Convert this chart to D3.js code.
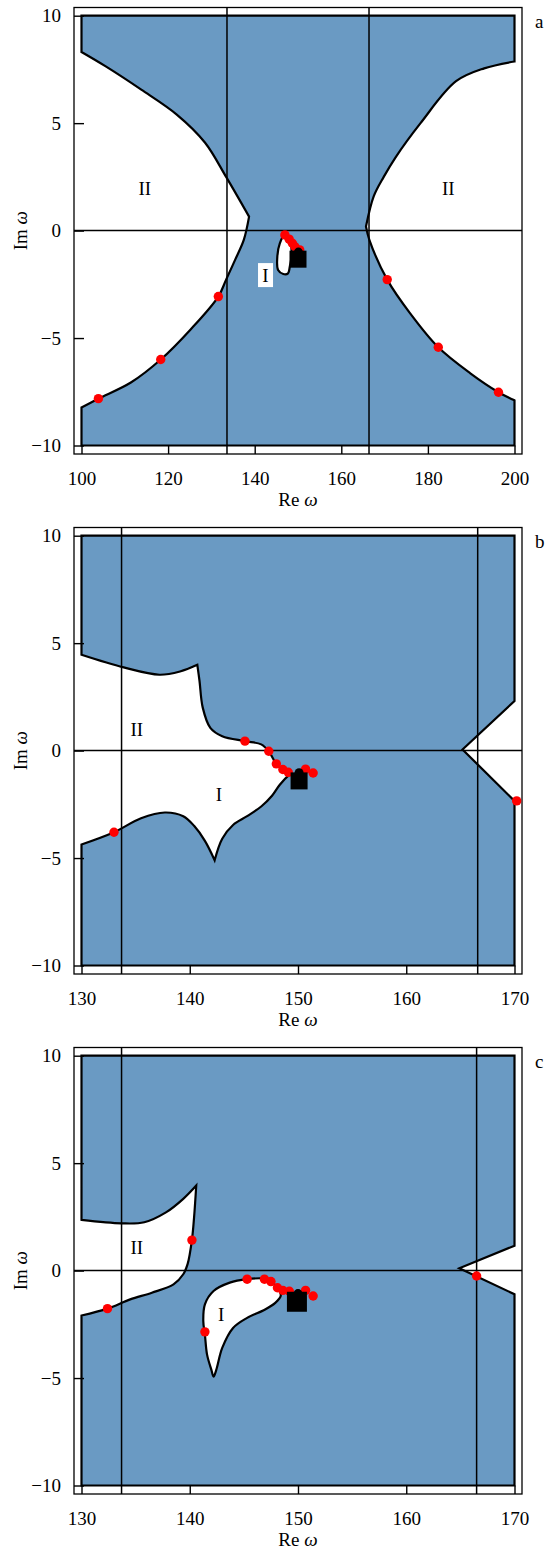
<!DOCTYPE html>
<html>
<head>
<meta charset="utf-8">
<title>Re/Im omega regions</title>
<script src="https://d3js.org/d3.v7.min.js"></script>
<style>
  body { margin: 0; background: #fff; }
  text { font-family: "Liberation Serif", "Times New Roman", serif; }
</style>
</head>
<body>
<div id="chart"></div>
<script>
// ---- data ----
const panelNames = ["a", "b", "c"];
const xDomains = [[100, 200], [130, 170], [130, 170]];
const xTicks = [[100, 120, 140, 160, 180, 200], [130, 140, 150, 160, 170], [130, 140, 150, 160, 170]];
const yTicks = [-10, -5, 0, 5, 10];
const vLines = [[133.6, 166.4], [133.7, 166.6], [133.7, 166.5]];

// boundary of the shaded region, piece by piece ("line" or "curve")
const aKinds = ["line", "curve", "curve", "line", "curve", "curve"];
const aBoundary = [
  [[100, 8.31], [100, 10], [200, 10], [200, 7.87]],
  [[200, 7.87], [193, 7.55], [186.5, 6.95], [178.3, 5.0], [172.5, 3.4], [169.8, 2.5], [167.5, 1.6], [165.7, 0.19]],
  [[165.7, 0.19], [166.5, -0.44], [170.6, -2.28], [175.9, -3.85], [182.4, -5.43], [189.8, -6.64], [196.3, -7.52], [200, -7.9]],
  [[200, -7.9], [200, -10], [100, -10], [100, -8.23]],
  [[100, -8.23], [103.9, -7.82], [111.4, -7.07], [118.3, -6.0], [125.2, -4.6], [131.6, -3.07], [133.4, -2.28], [135.5, -1.35], [137.5, -0.42], [138.7, 0.65]],
  [[138.7, 0.65], [133.4, 2.5], [128.5, 4.1], [122, 5.4], [113.8, 6.56], [105.6, 7.64], [100, 8.31]]
];
const aIsland = [[146.97, -0.2], [145.8, -0.59], [145.2, -1.29], [145.4, -1.83], [146.6, -2.02], [147.7, -1.99], [148.1, -1.68], [148.5, -1.2], [148.3, -0.6]];
const aDots = [[146.97, -0.2], [147.96, -0.4], [148.7, -0.59], [149.3, -0.75], [150.4, -0.9],
  [131.6, -3.07], [118.3, -6.0], [103.9, -7.82], [170.6, -2.28], [182.4, -5.43], [196.3, -7.52]];

const bKinds = ["line", "line", "line", "curve", "curve", "curve", "curve"];
const bBoundary = [
  [[130, 4.46], [130, 10], [170, 10], [170, 2.31]],
  [[170, 2.31], [165.2, 0.05], [170, -2.34]],
  [[170, -2.34], [170, -10], [130, -10], [130, -4.37]],
  [[130, -4.37], [133.0, -3.8], [135.5, -3.15], [137.7, -2.88], [139.4, -3.05], [140.4, -3.5], [141.4, -4.2], [142.3, -5.1]],
  [[142.3, -5.1], [143.0, -4.1], [144.0, -3.46], [145.3, -3.05], [146.6, -2.6], [147.6, -2.1], [148.3, -1.6], [149.2, -1.12]],
  [[149.2, -1.12], [149.1, -1.01], [148.6, -0.88], [148.0, -0.62], [147.3, -0.03], [146.6, 0.29], [145.1, 0.44], [143, 0.67], [141.9, 1.06], [141.2, 2.0], [140.9, 3.25], [140.7, 3.99]],
  [[140.7, 3.99], [139.1, 3.68], [137.2, 3.53], [133.9, 3.87], [130, 4.46]]
];
const bDots = [[145.1, 0.44], [147.3, -0.03], [148.0, -0.62], [148.6, -0.88], [149.1, -1.01], [150.7, -0.86], [151.4, -1.04],
  [133.0, -3.8], [170.2, -2.34]];

const cKinds = ["line", "line", "line", "curve", "curve"];
const cBoundary = [
  [[130, 2.36], [130, 10], [170, 10], [170, 1.16]],
  [[170, 1.16], [164.9, 0.11], [170, -1.1]],
  [[170, -1.1], [170, -10], [130, -10], [130, -2.09]],
  [[130, -2.09], [132.4, -1.77], [134.5, -1.34], [136.5, -1.03], [138.5, -0.64], [139.4, -0.17], [139.8, 0.3], [140.2, 1.42], [140.4, 2.48], [140.6, 3.96]],
  [[140.6, 3.96], [139.4, 3.34], [137.8, 2.71], [135.8, 2.25], [133.7, 2.2], [130, 2.36]]
];
const cIsland = [[145.3, -0.4], [143.7, -0.56], [142.2, -0.95], [141.4, -1.57], [141.25, -2.35], [141.4, -2.98], [141.6, -3.91],
  [142.0, -4.62], [142.2, -4.93], [142.45, -4.62], [143.0, -3.6], [144.0, -2.67], [145.3, -2.2], [146.96, -1.81],
  [147.9, -1.5], [148.4, -1.18], [148.3, -0.95], [147.5, -0.51], [146.9, -0.37]];
const cDots = [[140.2, 1.42], [132.4, -1.77], [141.4, -2.85], [166.5, -0.25],
  [145.3, -0.4], [146.9, -0.4], [147.5, -0.51], [148.1, -0.8], [148.6, -0.92], [149.2, -0.96], [150.7, -0.92], [151.4, -1.18]];

// black marker (square + small cap) per panel
const squares = [[150.0, -1.33], [150.1, -1.41], [149.9, -1.45]];
const squareCaps = [[150.1, -1.0], [150.1, -1.03], [150.0, -1.07]];

// region labels
const aLabels = [{t: "II", x: 114.6, y: 1.97}, {t: "II", x: 184.7, y: 1.97}, {t: "I", x: 142.5, y: -2.07, box: true}];
const bLabels = [{t: "II", x: 135.1, y: 0.99}, {t: "I", x: 142.7, y: -2.05}];
const cLabels = [{t: "II", x: 135.1, y: 1.08}, {t: "I", x: 142.9, y: -2.04}];

// ---- layout ----
const W = 554, H = 1551, panelH = 520;
const frame = {left: 74, right: 522, top: 7.5, bottom: 454};
const squareSizes = [17, 17, 20];

const panels = [
  {boundary: aBoundary, kinds: aKinds, island: aIsland, dots: aDots, labels: aLabels},
  {boundary: bBoundary, kinds: bKinds, island: null, dots: bDots, labels: bLabels},
  {boundary: cBoundary, kinds: cKinds, island: cIsland, dots: cDots, labels: cLabels}
];

const svg = d3.select("#chart").append("svg")
    .attr("width", W)
    .attr("height", H);

panels.forEach((p, i) => {
  const g = svg.append("g").attr("transform", "translate(0," + i * panelH + ")");

  const x = d3.scaleLinear().domain(xDomains[i]).range([81.5, 514.5]);
  const y = d3.scaleLinear().domain([-10, 10]).range([445.5, 15.7]);

  const lin = d3.line().x(d => x(d[0])).y(d => y(d[1]));
  const cur = d3.line().x(d => x(d[0])).y(d => y(d[1])).curve(d3.curveCatmullRom.alpha(0.5));
  const closed = d3.line().x(d => x(d[0])).y(d => y(d[1])).curve(d3.curveCatmullRomClosed.alpha(0.5));

  const pathD = p.boundary.map((s, k) => {
    const d = (p.kinds[k] === "curve" ? cur : lin)(s);
    return k ? d.replace(/^M/, "L") : d;
  }).join("") + "Z";

  // frame
  g.append("rect")
    .attr("x", frame.left).attr("y", frame.top)
    .attr("width", frame.right - frame.left).attr("height", frame.bottom - frame.top)
    .attr("fill", "none").attr("stroke", "#000").attr("stroke-width", 1.3);

  // shaded region
  g.append("path")
    .attr("d", pathD)
    .attr("fill", "#6a9ac3")
    .attr("stroke", "#000")
    .attr("stroke-width", 2.2)
    .attr("stroke-linejoin", "miter");

  if (p.island) {
    g.append("path")
      .attr("d", closed(p.island))
      .attr("fill", "#fff")
      .attr("stroke", "#000")
      .attr("stroke-width", 2.2);
  }

  // reference lines
  g.append("line")
    .attr("x1", frame.left).attr("x2", frame.right)
    .attr("y1", y(0)).attr("y2", y(0))
    .attr("stroke", "#000").attr("stroke-width", 1.5);
  g.selectAll(".vline").data(vLines[i]).enter().append("line")
    .attr("x1", d => x(d)).attr("x2", d => x(d))
    .attr("y1", frame.top).attr("y2", frame.bottom)
    .attr("stroke", "#000").attr("stroke-width", 1.5);

  // axes
  const ya = g.append("g")
    .attr("transform", "translate(" + frame.left + ",0)")
    .call(d3.axisLeft(y).tickValues(yTicks).tickSizeInner(-10).tickSizeOuter(0).tickPadding(13));
  const xa = g.append("g")
    .attr("transform", "translate(0," + frame.bottom + ")")
    .call(d3.axisBottom(x).tickValues(xTicks[i]).tickSizeInner(-8.5).tickSizeOuter(0).tickPadding(18).tickFormat(d3.format("d")));
  [ya, xa].forEach(a => {
    a.select(".domain").remove();
    a.selectAll("line").attr("stroke-width", 1.4);
    a.selectAll("text")
      .attr("font-family", "'Liberation Serif', 'Times New Roman', serif")
      .attr("font-size", 19)
      .attr("fill", "#000");
  });

  // labels on the region
  p.labels.forEach(l => {
    if (l.box) {
      g.append("rect")
        .attr("x", x(l.x) - 7.5).attr("y", y(l.y) - 12)
        .attr("width", 15).attr("height", 24)
        .attr("fill", "#fff");
    }
    g.append("text")
      .attr("x", x(l.x)).attr("y", y(l.y))
      .attr("dy", "0.35em")
      .attr("text-anchor", "middle")
      .attr("font-size", 19)
      .text(l.t);
  });

  // red points
  g.selectAll(".dot").data(p.dots).enter().append("circle")
    .attr("cx", d => x(d[0])).attr("cy", d => y(d[1]))
    .attr("r", 4.7)
    .attr("fill", "#ff0000");

  // black marker
  const s = squareSizes[i];
  g.append("circle")
    .attr("cx", x(squareCaps[i][0])).attr("cy", y(squareCaps[i][1]))
    .attr("r", 4.5).attr("fill", "#000");
  g.append("rect")
    .attr("x", x(squares[i][0]) - s / 2).attr("y", y(squares[i][1]) - s / 2)
    .attr("width", s).attr("height", s)
    .attr("fill", "#000");

  // axis titles and panel letter
  const xt = g.append("text")
    .attr("x", (frame.left + frame.right) / 2).attr("y", 506)
    .attr("text-anchor", "middle").attr("font-size", 19);
  xt.append("tspan").text("Re ");
  xt.append("tspan").attr("font-style", "italic").text("ω");

  const yt = g.append("text")
    .attr("transform", "translate(20," + (y(10) + y(-10)) / 2 + ") rotate(-90)")
    .attr("dy", "0.35em")
    .attr("text-anchor", "middle").attr("font-size", 19);
  yt.append("tspan").text("Im ");
  yt.append("tspan").attr("font-style", "italic").text("ω");

  g.append("text")
    .attr("x", 535).attr("y", 28)
    .attr("font-size", 19)
    .text(panelNames[i]);
});
</script>
</body>
</html>
